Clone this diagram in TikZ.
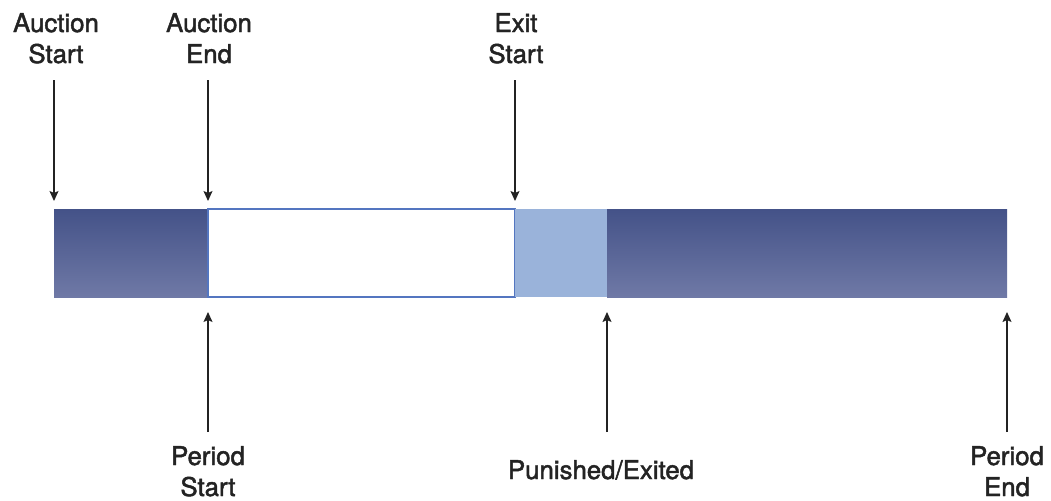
\documentclass[tikz,border=0pt]{standalone}
\usepackage{fontspec}
\setmainfont{TeX Gyre Heros}
\newfontfamily\markfont[FakeBold=1.8]{TeX Gyre Heros}
\usepackage{tikz}
\usetikzlibrary{arrows.meta}

\definecolor{barDark}{RGB}{68,82,136}
\definecolor{barDarkLow}{RGB}{111,121,166}
\definecolor{barLight}{RGB}{154,179,218}
\definecolor{barEdge}{RGB}{84,118,192}
\definecolor{inkGray}{RGB}{35,35,35}

\begin{document}
\begin{tikzpicture}[x=0.5pt,y=-0.5pt]

\tikzset{phase/.style={top color=barDark, bottom color=barDarkLow, draw=none},
  mark label/.style={font=\markfont\fontsize{12.9}{15.5}\selectfont, align=center,
    text=inkGray, inner sep=0pt, anchor=base},
  tick/.style={-{Stealth[length=5pt,width=4.5pt,inset=1pt]}, inkGray,
    line width=0.6pt}
}
\useasboundingbox (0,0) rectangle (1051,500);

% the bar
\shade[phase] (54,209) rectangle (208,297);
\draw[barEdge, line width=0.6pt, fill=white] (208,209) rectangle (515,297);
\fill[barLight] (515,209) rectangle (607,297);
\shade[phase] (607,209) rectangle (1007,297);

% marks on the bar
\coordinate (auctionStart) at (54,209);
\coordinate (auctionEnd) at (208,209);
\coordinate (exitStart) at (515,209);
\coordinate (periodStart) at (208,297);
\coordinate (punished) at (607,297);
\coordinate (periodEnd) at (1007,297);

% tails of the arrows
\coordinate (tailAS) at (54,80);
\coordinate (tailAE) at (208,80);
\coordinate (tailES) at (515,80);
\coordinate (tailPS) at (208,432);
\coordinate (tailPX) at (607,432);
\coordinate (tailPE) at (1007,432);

% base = baseline of the last line
\node[mark label] (lblAS) at (56,63) {Auction\\Start};
\node[mark label] (lblAE) at (209,63) {Auction\\End};
\node[mark label] (lblES) at (516,63) {Exit\\Start};
\node[mark label] (lblPS) at (208,496) {Period\\Start};
\node[mark label] (lblPX) at (601,479) {Punished/Exited};
\node[mark label] (lblPE) at (1007,496) {Period\\End};

\draw[tick, shorten >=4pt] (tailAS) -- (auctionStart);
\draw[tick, shorten >=4pt] (tailAE) -- (auctionEnd);
\draw[tick, shorten >=4pt] (tailES) -- (exitStart);
\draw[tick, shorten >=7.5pt] (tailPS) -- (periodStart);
\draw[tick, shorten >=7.5pt] (tailPX) -- (punished);
\draw[tick, shorten >=7.5pt] (tailPE) -- (periodEnd);

\end{tikzpicture}
\end{document}
